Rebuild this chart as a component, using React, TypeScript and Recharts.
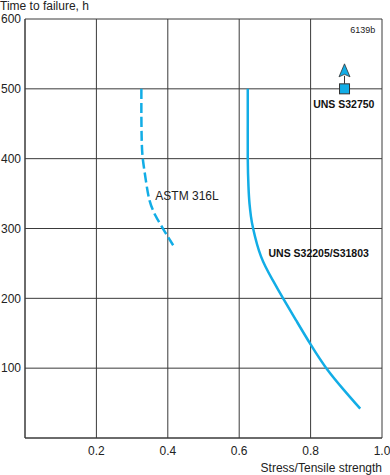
import React from 'react';
import {
  ComposedChart,
  Line,
  XAxis,
  YAxis,
  CartesianGrid,
  Scatter,
  ReferenceDot,
  Label,
} from 'recharts';

const xTicks = [0.2, 0.4, 0.6, 0.8, 1.0];
const yTicks = [100, 200, 300, 400, 500, 600];

const astm316L = [
  { x: 0.326, y: 500 },
  { x: 0.326, y: 460 },
  { x: 0.327, y: 425 },
  { x: 0.329, y: 405 },
  { x: 0.333, y: 388 },
  { x: 0.34, y: 364 },
  { x: 0.349, y: 340 },
  { x: 0.365, y: 319 },
  { x: 0.384, y: 302 },
  { x: 0.398, y: 290 },
  { x: 0.415, y: 276 },
];

const uns32205 = [
  { x: 0.624, y: 500 },
  { x: 0.624, y: 450 },
  { x: 0.624, y: 400 },
  { x: 0.626, y: 360 },
  { x: 0.629, y: 335 },
  { x: 0.633, y: 317 },
  { x: 0.639, y: 300 },
  { x: 0.661, y: 260 },
  { x: 0.694, y: 226 },
  { x: 0.723, y: 200 },
  { x: 0.76, y: 168 },
  { x: 0.8, y: 134 },
  { x: 0.844, y: 100 },
  { x: 0.893, y: 69 },
  { x: 0.939, y: 42 },
];

const uns32750 = [{ x: 0.895, y: 500 }];

const BLUE = '#12ADE6';
const FONT = '"Liberation Sans", Arial, Helvetica, sans-serif';

const ArrowSquare = (props: any) => {
  const { cx, cy } = props;
  return (
    <g>
      <line x1={cx} y1={cy - 5} x2={cx} y2={cy - 13} stroke="#333" strokeWidth={1} />
      <path
        d={`M ${cx} ${cy - 25} L ${cx + 5.5} ${cy - 12} L ${cx} ${cy - 14.5} L ${cx - 5.5} ${cy - 12} Z`}
        fill={BLUE}
        stroke="#333"
        strokeWidth={0.8}
      />
      <rect x={cx - 5} y={cy - 5} width={10} height={10} fill={BLUE} stroke="#333" strokeWidth={1} />
    </g>
  );
};

export default function App() {
  return (
    <div style={{ position: 'absolute', left: 0, top: 0, background: '#fff' }}>
      <ComposedChart
        width={390}
        height={475}
        margin={{ top: 19, right: 8, bottom: 0, left: 0 }}
        style={{ fontFamily: FONT }}
      >
        <CartesianGrid stroke="#3a3a3a" strokeWidth={1} />
        <XAxis
          type="number"
          dataKey="x"
          domain={[0, 1]}
          ticks={xTicks}
          tickFormatter={(v: number) => v.toFixed(1)}
          height={37}
          tickLine={false}
          axisLine={{ stroke: '#3a3a3a' }}
          tick={{ fill: '#222', fontSize: 12 }}
          allowDataOverflow
        >
          <Label
            value="Stress/Tensile strength"
            position="insideBottomRight"
            offset={3}
            dx={3}
            fill="#222"
            fontSize={12}
          />
        </XAxis>
        <YAxis
          type="number"
          dataKey="y"
          domain={[0, 600]}
          ticks={yTicks}
          width={25}
          tickLine={false}
          tickSize={2}
          axisLine={{ stroke: '#3a3a3a' }}
          tick={{ fill: '#222', fontSize: 12 }}
          allowDataOverflow
        >
          <Label
            value="Time to failure, h"
            position="insideTopLeft"
            offset={0}
            dy={-18}
            fill="#222"
            fontSize={12}
          />
        </YAxis>
        <Line
          data={astm316L}
          dataKey="y"
          type="natural"
          stroke={BLUE}
          strokeWidth={2.5}
          strokeDasharray="10 4"
          dot={false}
          isAnimationActive={false}
        />
        <Line
          data={uns32205}
          dataKey="y"
          type="natural"
          stroke={BLUE}
          strokeWidth={2.5}
          dot={false}
          isAnimationActive={false}
        />
        <Scatter data={uns32750} dataKey="y" shape={ArrowSquare} isAnimationActive={false} />
        <ReferenceDot x={0.365} y={347} r={0} fill="none" stroke="none">
          <Label value="ASTM 316L" position="right" offset={0} fill="#222" fontSize={12} />
        </ReferenceDot>
        <ReferenceDot x={0.682} y={265} r={0} fill="none" stroke="none">
          <Label value="UNS S32205/S31803" position="right" offset={0} fill="#111" fontSize={10.5} fontWeight="bold" />
        </ReferenceDot>
        <ReferenceDot x={0.893} y={478} r={0} fill="none" stroke="none">
          <Label value="UNS S32750" position="center" fill="#111" fontSize={10.5} fontWeight="bold" />
        </ReferenceDot>
        <ReferenceDot x={0.946} y={584} r={0} fill="none" stroke="none">
          <Label value="6139b" position="center" fill="#222" fontSize={9} />
        </ReferenceDot>
      </ComposedChart>
    </div>
  );
}
